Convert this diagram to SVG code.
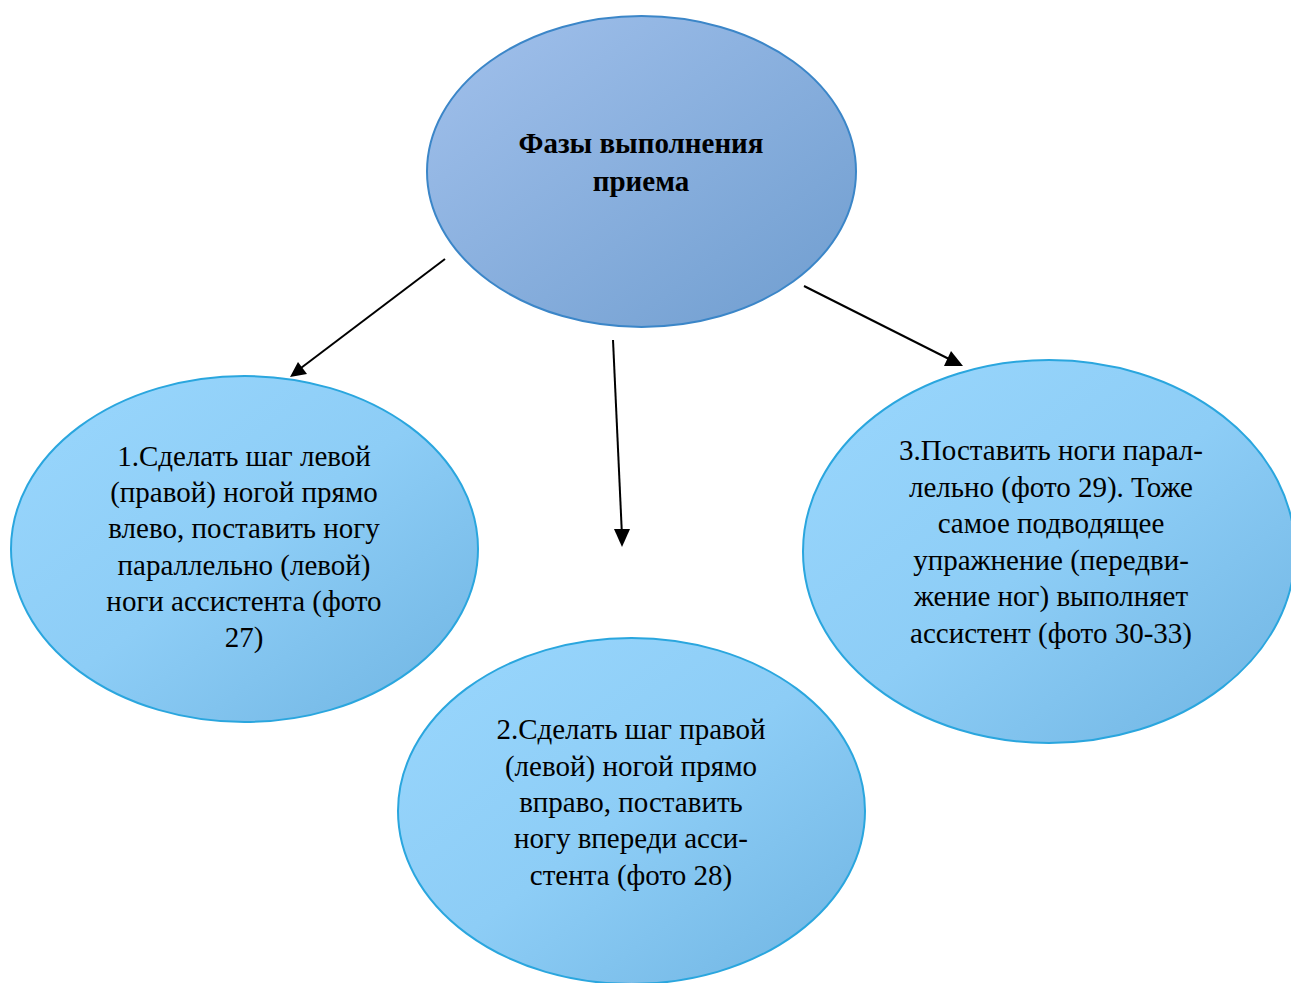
<svg xmlns="http://www.w3.org/2000/svg" width="1291" height="983" viewBox="0 0 1291 983">
<defs>
<linearGradient id="gTop" x1="0" y1="0" x2="1" y2="1">
<stop offset="0" stop-color="#a2c1ec"/>
<stop offset="1" stop-color="#6f9dcf"/>
</linearGradient>
<linearGradient id="gNode" x1="0" y1="0" x2="1" y2="1">
<stop offset="0" stop-color="#9ad7fd"/>
<stop offset="0.5" stop-color="#8dcdf6"/>
<stop offset="1" stop-color="#6fb4e2"/>
</linearGradient>
<style>
.t{font-family:"Liberation Serif","Times New Roman",serif;font-size:29px;fill:#000;text-anchor:middle}
.b{font-weight:bold}
.node{fill:url(#gNode);stroke:#2aa6de;stroke-width:2}
.conn{stroke:#000;stroke-width:2;fill:none}
</style>
</defs>
<rect width="1291" height="983" fill="#fff"/>
<g id="connectors">
<line class="conn" x1="445" y1="259" x2="297" y2="371"/>
<line class="conn" x1="613" y1="340" x2="622" y2="536"/>
<line class="conn" x1="804" y1="286" x2="953" y2="361"/>
<path d="M290,377 L298,362 L307,374 z" fill="#000"/>
<path d="M622,547 L614,529 L630,529 z" fill="#000"/>
<path d="M963,366 L944,366 L951,351 z" fill="#000"/>
</g>
<g id="node-main">
<ellipse cx="641.5" cy="171.5" rx="214.5" ry="155.5" fill="url(#gTop)" stroke="#3b86c8" stroke-width="2"/>
<text class="t b" x="641" y="153">Фазы выполнения</text>
<text class="t b" x="641" y="191">приема</text>
</g>
<g id="node-1">
<ellipse class="node" cx="244.5" cy="549" rx="233.5" ry="173"/>
<text class="t" x="244" y="466">1.Сделать шаг левой</text>
<text class="t" x="244" y="502">(правой) ногой прямо</text>
<text class="t" x="244" y="538">влево, поставить ногу</text>
<text class="t" x="244" y="575">параллельно (левой)</text>
<text class="t" x="244" y="611">ноги ассистента (фото</text>
<text class="t" x="244" y="647">27)</text>
</g>
<g id="node-2">
<ellipse class="node" cx="631.5" cy="811" rx="233.5" ry="173"/>
<text class="t" x="631" y="739">2.Сделать шаг правой</text>
<text class="t" x="631" y="776">(левой) ногой прямо</text>
<text class="t" x="631" y="812">вправо, поставить</text>
<text class="t" x="631" y="848">ногу впереди асси-</text>
<text class="t" x="631" y="885">стента (фото 28)</text>
</g>
<g id="node-3">
<ellipse class="node" cx="1049" cy="551.5" rx="246" ry="191.5"/>
<text class="t" x="1051" y="460">3.Поставить ноги парал-</text>
<text class="t" x="1051" y="497">лельно (фото 29). Тоже</text>
<text class="t" x="1051" y="533">самое подводящее</text>
<text class="t" x="1051" y="570">упражнение (передви-</text>
<text class="t" x="1051" y="606">жение ног) выполняет</text>
<text class="t" x="1051" y="643">ассистент (фото 30-33)</text>
</g>
</svg>
